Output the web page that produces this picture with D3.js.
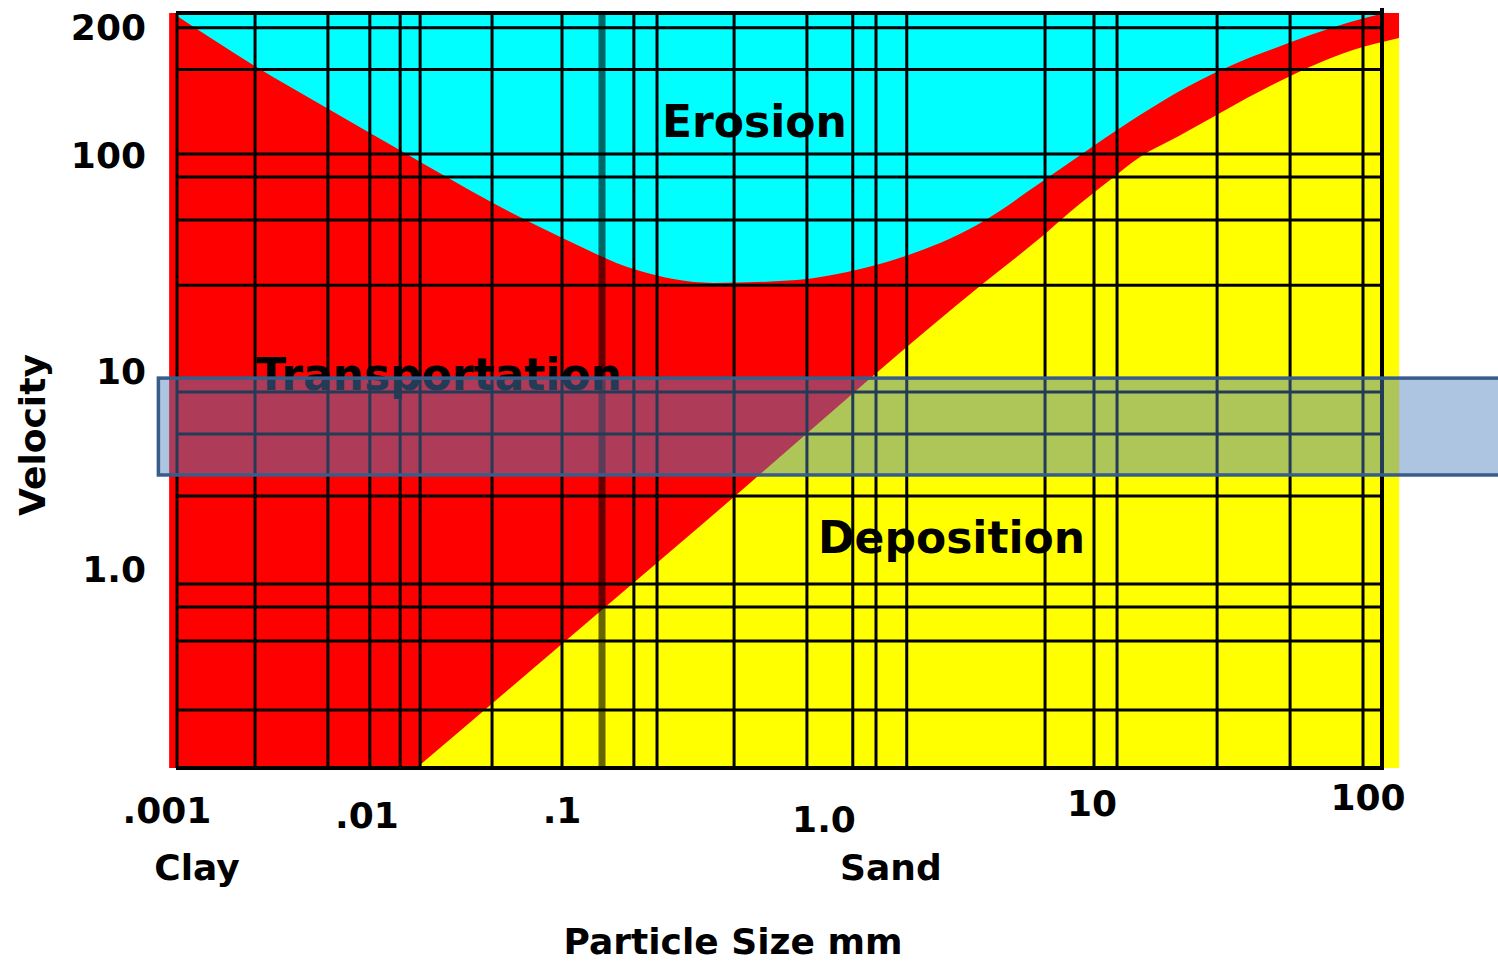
<!DOCTYPE html>
<html>
<head>
<meta charset="utf-8">
<script src="https://cdn.jsdelivr.net/npm/d3@7"></script>
<style>
  body { margin: 0; background: #fff; }
  text { font-family: "DejaVu Sans", Verdana, sans-serif; font-weight: bold; fill: #000; }
</style>
</head>
<body>
<svg id="chart" width="1498" height="965"></svg>
<script>
// Hjulstrom-style diagram: particle size (mm) vs velocity
const sizeTicks = [0.001, 0.01, 0.1, 1, 10, 100];
const sizeTickLabels = ['.001', '.01', '.1', '1.0', '10', '100'];
const velocityTicks = [200, 100, 10, 1];
const velocityTickLabels = ['200', '100', '10', '1.0'];

// erosion curve (cyan above, red below)
const erosionSize = [0.001, 0.00249, 0.0059, 0.0145, 0.0439, 0.098, 0.194, 0.381, 0.80, 1.24, 2.0, 3.75, 6.42, 10.0, 14.64, 21.27, 31.6, 43.8, 75.7, 102];
const erosionVelocity = [211, 162, 129, 102, 59.3, 41.3, 29.0, 25.3, 26.1, 28.4, 33.4, 46.9, 73.4, 103.9, 123.5, 143.8, 163.7, 178.5, 203.2, 214.6];

// deposition curve (red above, yellow below)
const depositionSize = [0.0176, 0.34, 4.015, 6.42, 8.29, 11.54, 14.64, 19.64, 26.14, 34.22, 43.8, 79.4, 114.5];
const depositionVelocity = [0.1, 1.63, 25.56, 40.8, 53.9, 75.8, 96.9, 109.6, 122.2, 135.4, 147.7, 175.6, 187.4];

// hand drawn grid
const gridSizes = [0.00255, 0.00611, 0.0101, 0.0145, 0.0184, 0.0434, 0.1, 0.189, 0.232, 0.459, 0.875, 1.30, 1.585, 2.06, 6.70, 10.16, 12.2, 27.0, 48.2, 86.0];
const gridVelocities = [198, 158, 100, 78.3, 49.5, 24.7, 7.74, 4.75, 2.31, 0.832, 0.638, 0.432, 0.195];
const markedSize = 0.1425;

const sizeRange = [0.001, 100];
const velocityRange = [0.1, 214.6];
const fillSizeRange = [0.00091, 114.5];
const highlightVelocity = [2.95, 9.1];

const regionNames = ['Erosion', 'Transportation', 'Deposition'];
const regionSize = [0.2424, 0.00258, 0.966];
const regionVelocity = [109.6, 7.93, 1.19];

const classNames = ['Clay', 'Sand'];
const classSize = [0.00127, 1.80];

const svg = d3.select('#chart');

const x = d3.scaleLog()
    .domain(sizeTicks)
    .range([177, 369, 562, 822, 1092, 1382]);
const y = d3.scaleLog()
    .domain([0.1, 1, 10, 100, 200])
    .range([768, 568, 370, 154, 26]);

const plotTop = y(velocityRange[1]);
const plotBottom = y(velocityRange[0]);
const plotLeft = x(sizeRange[0]);
const plotRight = x(sizeRange[1]);

// transportation band (red) behind everything
svg.append('rect')
    .attr('x', x(fillSizeRange[0]))
    .attr('y', plotTop)
    .attr('width', x(fillSizeRange[1]) - x(fillSizeRange[0]))
    .attr('height', plotBottom - plotTop)
    .attr('fill', '#ff0000');

const erosionArea = d3.area()
    .x(d => x(d[0]))
    .y0(plotTop)
    .y1(d => y(d[1]))
    .curve(d3.curveMonotoneX);

svg.append('path')
    .datum(d3.zip(erosionSize, erosionVelocity))
    .attr('d', erosionArea)
    .attr('fill', '#00ffff');

const depositionArea = d3.area()
    .x(d => x(d[0]))
    .y0(plotBottom)
    .y1(d => y(d[1]))
    .curve(d3.curveMonotoneX);

svg.append('path')
    .datum(d3.zip(depositionSize, depositionVelocity))
    .attr('d', depositionArea)
    .attr('fill', '#ffff00');

// grid
const grid = svg.append('g').attr('stroke', '#000').attr('stroke-width', 3);

grid.selectAll('line.v')
    .data(gridSizes)
    .enter().append('line')
    .attr('class', 'v')
    .attr('x1', d => x(d)).attr('x2', d => x(d))
    .attr('y1', plotTop).attr('y2', plotBottom);

grid.selectAll('line.h')
    .data(gridVelocities)
    .enter().append('line')
    .attr('class', 'h')
    .attr('x1', plotLeft).attr('x2', plotRight)
    .attr('y1', d => y(d)).attr('y2', d => y(d));

svg.append('line')
    .attr('x1', x(markedSize)).attr('x2', x(markedSize))
    .attr('y1', plotTop).attr('y2', plotBottom)
    .attr('stroke', '#000')
    .attr('stroke-opacity', 0.6)
    .attr('stroke-width', 7);

// frame
const frame = svg.append('g').attr('stroke', '#000');
frame.append('line').attr('x1', plotLeft - 1).attr('x2', plotRight + 2).attr('y1', plotTop).attr('y2', plotTop).attr('stroke-width', 4);
frame.append('line').attr('x1', plotLeft - 1).attr('x2', plotRight + 2).attr('y1', plotBottom).attr('y2', plotBottom).attr('stroke-width', 4);
frame.append('line').attr('x1', plotLeft).attr('x2', plotLeft).attr('y1', plotTop).attr('y2', plotBottom).attr('stroke-width', 3);
frame.append('line').attr('x1', plotRight).attr('x2', plotRight).attr('y1', plotTop - 5).attr('y2', plotBottom).attr('stroke-width', 4);

// region names
svg.selectAll('text.region')
    .data(regionNames)
    .enter().append('text')
    .attr('class', 'region')
    .attr('x', (d, i) => x(regionSize[i]))
    .attr('y', (d, i) => y(regionVelocity[i]))
    .style('font-size', '44px')
    .text(d => d);

// translucent highlight box
svg.append('rect')
    .attr('x', x(0.0008))
    .attr('y', y(highlightVelocity[1]))
    .attr('width', 1498 - x(0.0008) + 10)
    .attr('height', y(highlightVelocity[0]) - y(highlightVelocity[1]))
    .attr('fill', '#4f81bd')
    .attr('fill-opacity', 0.46)
    .attr('stroke', '#385d8a')
    .attr('stroke-width', 3.5);

// axis labels
const sizeLabelDx = [-10, -2, 0, 2, 0, -14];
const sizeLabelDy = [55, 60, 55, 64, 48, 42];

svg.selectAll('text.xtick')
    .data(sizeTicks)
    .enter().append('text')
    .attr('class', 'xtick')
    .attr('x', (d, i) => x(d) + sizeLabelDx[i])
    .attr('y', (d, i) => plotBottom + sizeLabelDy[i])
    .attr('text-anchor', 'middle')
    .style('font-size', '36px')
    .text((d, i) => sizeTickLabels[i]);

svg.selectAll('text.ytick')
    .data(velocityTicks)
    .enter().append('text')
    .attr('class', 'ytick')
    .attr('x', 146)
    .attr('y', d => y(d) + 14)
    .attr('text-anchor', 'end')
    .style('font-size', '36px')
    .text((d, i) => velocityTickLabels[i]);

svg.selectAll('text.sizeclass')
    .data(classNames)
    .enter().append('text')
    .attr('class', 'sizeclass')
    .attr('x', (d, i) => x(classSize[i]))
    .attr('y', plotBottom + 112)
    .attr('text-anchor', 'middle')
    .style('font-size', '36px')
    .text(d => d);

svg.append('text')
    .attr('x', 733)
    .attr('y', 954)
    .attr('text-anchor', 'middle')
    .style('font-size', '36px')
    .text('Particle Size mm');

svg.append('text')
    .attr('transform', 'translate(45,435)rotate(-90)')
    .attr('text-anchor', 'middle')
    .style('font-size', '36px')
    .text('Velocity');
</script>
</body>
</html>
